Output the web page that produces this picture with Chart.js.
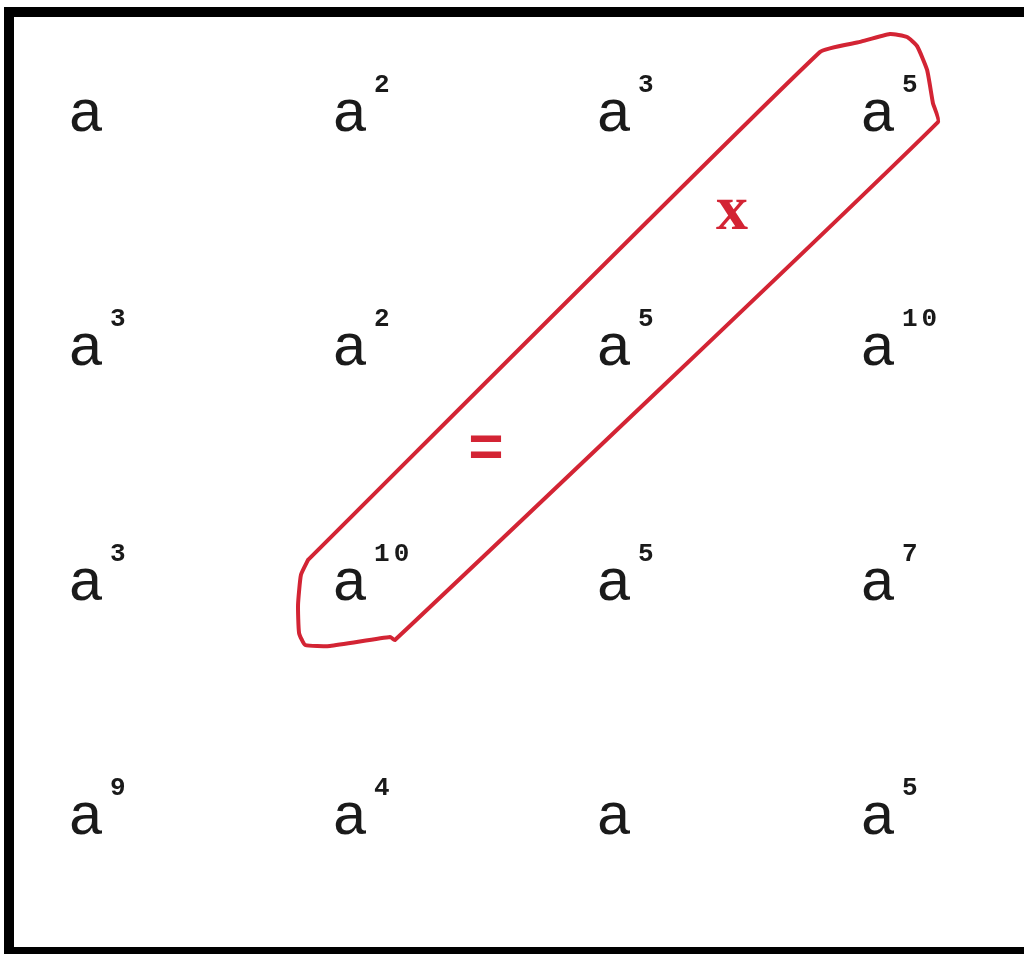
<!DOCTYPE html>
<html>
<head>
<meta charset="utf-8">
<style>
  html, body { margin: 0; padding: 0; background: #fff; }
  canvas { display: block; }
</style>
<script src="https://cdn.jsdelivr.net/npm/chart.js@4/dist/chart.umd.min.js"></script>
</head>
<body>
<canvas id="chart" width="1024" height="954"></canvas>
<script>
// grid of powers of a (column / row positions, exponent per cell)
const columns = [1, 2, 3, 4];
const rows = [1, 2, 3, 4];
const exponents = [
    [1, 2, 3, 5],
    [3, 2, 5, 10],
    [3, 10, 5, 7],
    [9, 4, 1, 5]
];

// hand drawn loop round the diagonal a^5, a^5, a^10 (in grid units)
const loopX = [1.841, 3.780, 3.932, 4.045, 4.110, 4.148, 4.186, 4.208, 4.227, 2.170, 2.152, 1.924, 1.830, 1.807, 1.803, 1.814, 1.841];
const loopY = [2.899, 0.731, 0.688, 0.654, 0.667, 0.706, 0.808, 0.949, 1.030, 3.241, 3.228, 3.266, 3.262, 3.211, 3.091, 2.963, 2.899];

// red marks written inside the loop
const opLabels = ['x', '='];
const opX = [3.447, 2.515];
const opY = [1.418, 2.434];

const RED = 'rgb(211, 36, 52)';

const cells = [];
rows.forEach((r, i) => {
    columns.forEach((c, j) => {
        cells.push({x: c, y: r, exp: exponents[i][j]});
    });
});

const textPlugin = {
    id: 'powers',
    beforeDraw(chart) {
        const ctx = chart.ctx;
        const w = chart.width, h = chart.height;
        ctx.save();
        ctx.fillStyle = '#fff';
        ctx.fillRect(0, 0, w, h);
        ctx.fillStyle = '#000';
        ctx.fillRect(4, 7, w - 4, 10);   // top
        ctx.fillRect(4, 7, 10, h - 7);   // left
        ctx.fillRect(4, 947, w - 4, h - 947); // bottom
        ctx.restore();
    },
    afterDatasetsDraw(chart) {
        const ctx = chart.ctx;
        ctx.save();
        const cellMeta = chart.getDatasetMeta(0);
        cellMeta.data.forEach((pt, i) => {
            const d = cells[i];
            ctx.fillStyle = '#1a1a1a';
            ctx.font = '60px "Liberation Mono", "DejaVu Sans Mono", monospace';
            ctx.textAlign = 'center';
            ctx.textBaseline = 'alphabetic';
            ctx.fillText('a', pt.x, pt.y + 16);
            if (d.exp !== 1) {
                ctx.font = 'bold 26px "Liberation Mono", "DejaVu Sans Mono", monospace';
                ctx.textAlign = 'left';
                ctx.letterSpacing = '4px';
                ctx.fillText(String(d.exp), pt.x + 24, pt.y - 23);
                ctx.letterSpacing = '0px';
            }
        });
        const opMeta = chart.getDatasetMeta(2);
        opMeta.data.forEach((pt, i) => {
            ctx.fillStyle = RED;
            ctx.textAlign = 'center';
            ctx.textBaseline = 'middle';
            if (opLabels[i] === 'x') {
                ctx.font = 'bold 64px "Liberation Serif", "DejaVu Serif", serif';
            } else {
                ctx.font = 'bold 60px "Liberation Mono", "DejaVu Sans Mono", monospace';
            }
            ctx.fillText(opLabels[i], pt.x, pt.y);
        });
        ctx.restore();
    }
};

new Chart(document.getElementById('chart'), {
    type: 'scatter',
    data: {
        datasets: [{
            label: 'cells',
            data: cells,
            pointRadius: 0
        }, {
            label: 'loop',
            data: loopX.map((x, i) => ({x: x, y: loopY[i]})),
            showLine: true,
            borderColor: RED,
            borderWidth: 4,
            pointRadius: 0,
            tension: 0.15,
            borderJoinStyle: 'round',
            borderCapStyle: 'round'
        }, {
            label: 'ops',
            data: opX.map((x, i) => ({x: x, y: opY[i]})),
            pointRadius: 0
        }]
    },
    options: {
        responsive: false,
        animation: false,
        events: [],
        layout: {padding: 0},
        plugins: {
            legend: {display: false},
            tooltip: {enabled: false}
        },
        scales: {
            x: {type: 'linear', display: false, min: 0.674, max: 4.553},
            y: {type: 'linear', display: false, reverse: true, min: 0.509, max: 4.581}
        }
    },
    plugins: [textPlugin]
});
</script>
</body>
</html>
